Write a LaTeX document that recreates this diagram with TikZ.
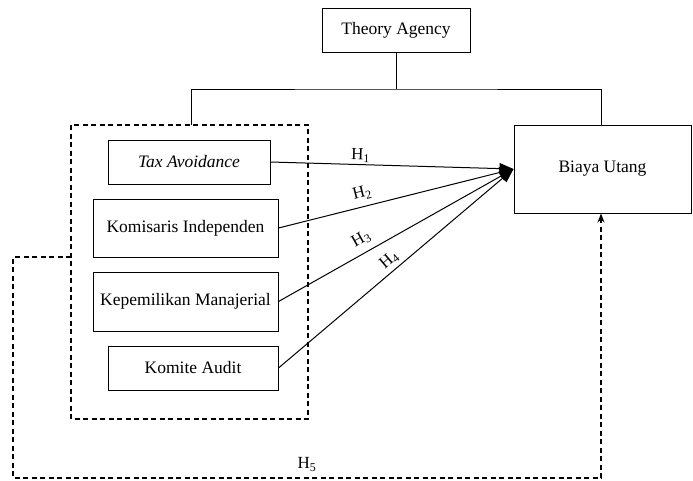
\documentclass[tikz,border=0pt]{standalone}
\usepackage{fontspec}
\setmainfont{Liberation Serif}
\usetikzlibrary{arrows.meta, positioning, calc}

\begin{document}
\begin{tikzpicture}[x=1pt, y=-1pt,
  box/.style={draw, line width=1pt, minimum height=44pt, inner sep=2pt, align=center,
              font=\fontsize{17.5}{20}\selectfont},
  arr/.style={-{Triangle[length=14pt, width=11pt]}, line width=1pt},
  dashline/.style={line width=1.1pt, dash pattern=on 5pt off 3.5pt},
  hyp/.style={font=\fontsize{17}{20}\selectfont, above=5pt, sloped, inner sep=1pt}
]
  \useasboundingbox (0,0) rectangle (693,480);

  % top theory box
  \node[box, minimum width=148pt] (theory) at (396,30) {Theory Agency};
  \node[box, minimum width=177pt, minimum height=88pt] (biaya) at (602.5,169) {Biaya Utang};

  % independent variables
  \node[box, minimum width=162pt] (tax) at (189,162) {\textit{Tax Avoidance}};
  \node[box, minimum width=185pt, minimum height=58pt] (komisaris) at (185.5,228) {Komisaris Independen};
  \node[box, minimum width=185pt, minimum height=59pt] (kepemilikan) at (185.5,301.5) {Kepemilikan Manajerial};
  \node[box, minimum width=170pt] (komite) at (193,368) {Komite Audit};

  % dashed group
  \draw[dashline] (71,125) rectangle (308,419);
  \coordinate (grouptop) at (191,125);
  \coordinate (groupleft) at (71,257);

  % theory connector
  \coordinate (split) at (396,89);
  \draw[line width=1pt] (theory.south) -- (split);
  \draw[line width=1pt] (grouptop) |- (split) -| (biaya.north -| 601,0);

  % hypotheses
  \coordinate (tip) at (biaya.west);
  \draw[arr] (tax.east) -- node[hyp, above=1pt, pos=0.37] {H\textsubscript{1}} (tip);
  \draw[arr] (komisaris.east) -- node[hyp, pos=0.37] {H\textsubscript{2}} (tip);
  \draw[arr] (kepemilikan.east) -- node[hyp, pos=0.38] {H\textsubscript{3}} (tip);
  \draw[arr] (komite.east) -- node[hyp, above=2pt, pos=0.5] {H\textsubscript{4}} (tip);

  % H5
  \draw[dashline, -{Stealth[length=9pt, width=7pt]}] (groupleft) -- (13,257) -- (13,478)
    -- node[above=3pt, font=\fontsize{17}{20}\selectfont] {H\textsubscript{5}} (601,478)
    -- (biaya.south -| 601,0);
\end{tikzpicture}
\end{document}
